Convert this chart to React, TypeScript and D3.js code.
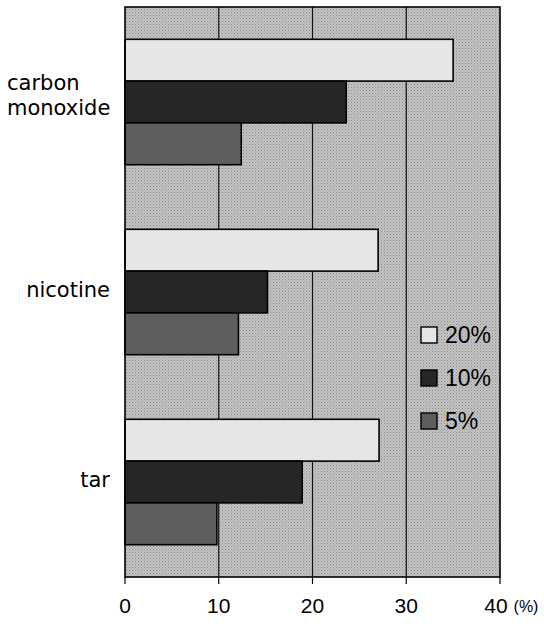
import React from "react";
import * as d3 from "d3";

const categories = ["carbon monoxide", "nicotine", "tar"];
const categoryLines: string[][] = [["carbon", "monoxide"], ["nicotine"], ["tar"]];
const seriesNames = ["20%", "10%", "5%"];
const values20 = [35.0, 27.0, 27.1];
const values10 = [23.6, 15.2, 18.9];
const values5 = [12.4, 12.1, 9.8];
const xTicks = [0, 10, 20, 30, 40];
const seriesValues = [values20, values10, values5];
const seriesColors = ["#e6e6e6", "#262626", "#5e5e5e"];

const W = 544;
const H = 626;
const plot = { left: 125, right: 500, top: 7, bottom: 577 };
const font = "'Liberation Sans', Arial, Helvetica, sans-serif";
const labelFont = "'DejaVu Sans', Verdana, sans-serif";

export default function App() {
  const x = d3.scaleLinear().domain([0, 40]).range([plot.left, plot.right]);
  const y = d3
    .scaleBand<string>()
    .domain(categories)
    .range([plot.top, plot.bottom])
    .paddingInner(0.34)
    .paddingOuter(0.17);
  const ys = d3.scaleBand<string>().domain(seriesNames).range([0, y.bandwidth()]).padding(0);
  const legendY = d3.scalePoint<string>().domain(seriesNames).range([335, 421]);

  return (
    <svg
      width={W}
      height={H}
      style={{ position: "absolute", left: 0, top: 0, background: "#fff" }}
      fontFamily={font}
    >
      <defs>
        <pattern id="bgdots" width="3" height="3" patternUnits="userSpaceOnUse">
          <rect width="3" height="3" fill="#c4c4c4" />
          <rect x="0" y="0" width="1" height="1" fill="#8a8a8a" />
          <rect x="1.5" y="1.5" width="1" height="1" fill="#9a9a9a" />
        </pattern>
      </defs>
      <rect
        x={plot.left}
        y={plot.top}
        width={plot.right - plot.left}
        height={plot.bottom - plot.top}
        fill="url(#bgdots)"
      />
      {xTicks.slice(1, -1).map((t) => (
        <line key={t} x1={x(t)} x2={x(t)} y1={plot.top} y2={plot.bottom} stroke="#111" strokeWidth={1.2} />
      ))}
      {categories.map((c, ci) =>
        seriesNames.map((s, si) => (
          <rect
            key={c + s}
            x={x(0)}
            y={(y(c) ?? 0) + (ys(s) ?? 0)}
            width={x(seriesValues[si][ci]) - x(0)}
            height={ys.bandwidth()}
            fill={seriesColors[si]}
            stroke="#000"
            strokeWidth={1.6}
          />
        ))
      )}
      <rect
        x={plot.left}
        y={plot.top}
        width={plot.right - plot.left}
        height={plot.bottom - plot.top}
        fill="none"
        stroke="#000"
        strokeWidth={1.6}
      />
      {xTicks.map((t) => (
        <g key={t}>
          <line x1={x(t)} x2={x(t)} y1={plot.bottom} y2={plot.bottom + 7} stroke="#000" strokeWidth={1.2} />
          <text x={x(t) - (t === 40 ? 4 : 0)} y={613} textAnchor="middle" fontSize={21} fill="#000">
            {t}
          </text>
        </g>
      ))}
      <text x={526} y={612} textAnchor="middle" fontSize={16} fill="#000">
        (%)
      </text>
      {categories.map((c, ci) => {
        const lines = categoryLines[ci];
        const cy = (y(c) ?? 0) + y.bandwidth() / 2;
        const multi = lines.length > 1;
        const ax = multi ? 7 : 110;
        return (
          <text
            key={c}
            x={ax}
            textAnchor={multi ? "start" : "end"}
            fontSize={21}
            fontFamily={labelFont}
            fill="#000"
          >
            {lines.map((l, li) => (
              <tspan key={l} x={ax} y={multi ? cy - 12 + li * 25 : cy + 5}>
                {l}
              </tspan>
            ))}
          </text>
        );
      })}
      {seriesNames.map((s, si) => (
        <g key={s}>
          <rect
            x={421}
            y={(legendY(s) ?? 0) - 8}
            width={16}
            height={16}
            fill={seriesColors[si]}
            stroke="#000"
            strokeWidth={1.4}
          />
          <text x={445} y={(legendY(s) ?? 0) + 8} fontSize={23} fill="#000">
            {s}
          </text>
        </g>
      ))}
    </svg>
  );
}
